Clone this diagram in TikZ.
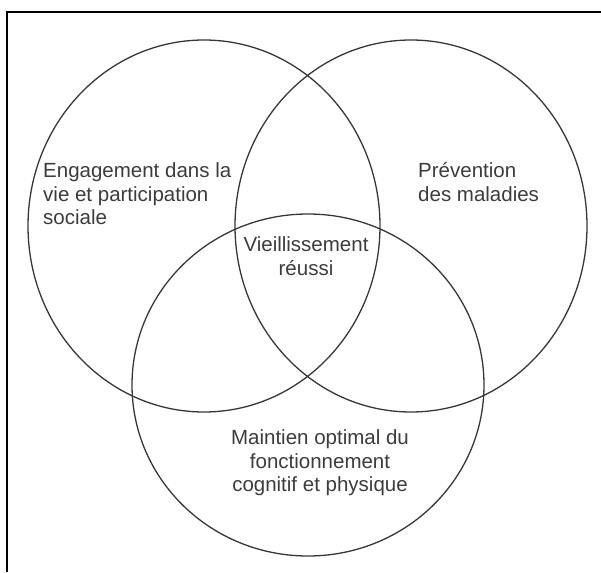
\documentclass[tikz,border=0pt]{standalone}
\usepackage{fontspec}
\setmainfont{Liberation Sans}
\usepackage{tikz}
\usetikzlibrary{positioning}
\definecolor{inkgray}{RGB}{55,55,55}
\definecolor{txtgray}{RGB}{60,60,60}

\begin{document}
\begin{tikzpicture}[x=1pt,y=-1pt]
\tikzset{venn/.style={draw=inkgray,line width=1.3pt},
  lbl/.style={text=txtgray,inner sep=0pt,font=\fontsize{20.5}{23.5}\selectfont}}
\useasboundingbox (0,0) rectangle (601,572);
\draw[line width=2pt] (7,572) -- (7,12.5) -- (601,12.5);

\coordinate (engage) at (204,226);
\coordinate (prevent) at (411,226);
\coordinate (maintain) at (308,385);
\draw[venn] (engage) ellipse [x radius=176pt,y radius=186pt];
\draw[venn] (prevent) ellipse [x radius=176pt,y radius=186pt];
\draw[venn] (maintain) ellipse [x radius=176pt,y radius=171pt];

\node[lbl,align=left,anchor=west] (engtxt) at (43,194) {Engagement dans la\\vie et participation\\sociale};
\node[lbl,align=left,anchor=west] (prevtxt) at (418,182) {Prévention\\des maladies};
\node[lbl,align=center] (vieil) at (306,256) {Vieillissement\\réussi};
\node[lbl,align=center] (maint) at (320,463) {Maintien optimal du\\fonctionnement\\cognitif et physique};
\end{tikzpicture}
\end{document}
